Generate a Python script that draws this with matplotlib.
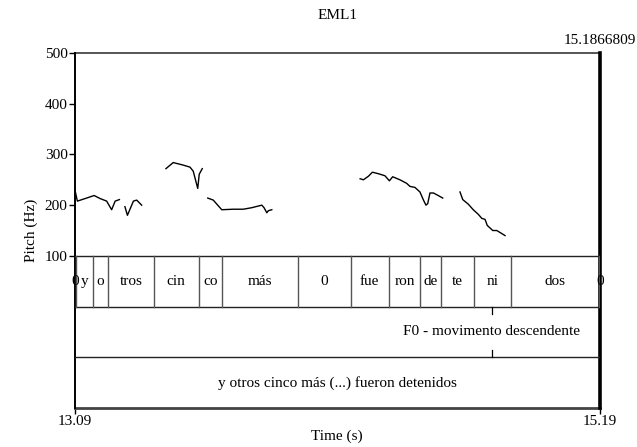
import matplotlib
matplotlib.use("Agg")
import matplotlib.pyplot as plt

plt.rcParams['font.family'] = ['Liberation Serif', 'DejaVu Serif']
plt.rcParams['font.size'] = 11

t_start = 13.0866809
t_end = 15.1866809

# pitch contour (time in s, F0 in Hz), one list per voiced stretch
pitch_t = [
    [13.087, 13.098, 13.129, 13.165, 13.189, 13.215, 13.235, 13.249, 13.266],
    [13.288, 13.298, 13.322, 13.335, 13.355],
    [13.452, 13.481, 13.521, 13.548, 13.561, 13.579, 13.585, 13.597],
    [13.619, 13.641, 13.675, 13.721, 13.761, 13.795, 13.835, 13.844, 13.855, 13.861, 13.875],
    [14.228, 14.241, 14.261, 14.277, 14.301, 14.327, 14.345, 14.358, 14.387, 14.414,
     14.427, 14.447, 14.467, 14.481, 14.491, 14.498, 14.507, 14.521, 14.540, 14.558],
    [14.627, 14.638, 14.660, 14.680, 14.700, 14.714, 14.727, 14.736, 14.758, 14.774, 14.794, 14.807],
]
pitch_hz = [
    [233, 208, 213, 219, 213, 208, 191, 208, 211],
    [197, 180, 208, 210, 200],
    [272, 284, 279, 275, 267, 233, 261, 272],
    [214, 210, 191, 192, 192, 195, 200, 195, 185, 189, 191],
    [252, 250, 257, 265, 262, 258, 248, 256, 250, 243, 237, 235, 226, 210, 200, 203, 224, 224, 219, 214],
    [226, 211, 202, 191, 182, 174, 172, 160, 150, 150, 144, 140],
]

# syllable tier
syl_bounds = [t_start, 13.0907, 13.1606, 13.2194, 13.4032, 13.5830, 13.6749, 13.9787,
              14.1904, 14.3423, 14.4674, 14.5513, 14.6832, 14.8322, 15.1839, t_end]
syl_labels = ["0", "y", "o", "tros", "cin", "co", "más", "0",
              "fue", "ron", "de", "te", "ni", "dos", "0"]

# point tier
point_t = 14.754
point_label = "F0 - movimento descendente"

# sentence tier
sentence = "y otros cinco más (...) fueron detenidos"

fig = plt.figure(figsize=(6.37, 4.47), dpi=100)
ax = fig.add_axes([0.117, 0.0872, 0.825, 0.7942])
ax.set_xlim(t_start, t_end)
ax.set_ylim(-200, 500)
for s in ax.spines.values():
    s.set_visible(False)

# pitch curve
for tt, hz in zip(pitch_t, pitch_hz):
    ax.plot(tt, hz, color='black', lw=1.0)

# frame
ax.plot([t_start, t_end], [500, 500], color='#555555', lw=1.4, clip_on=False)
ax.plot([t_start, t_end], [-200, -200], color='#444444', lw=2.0, clip_on=False)
ax.plot([t_start, t_start], [-200, 500], color='black', lw=1.4, clip_on=False)
ax.plot([t_end, t_end], [-200, 500], color='black', lw=2.6, clip_on=False)
for y in [100, 0, -100]:
    ax.plot([t_start, t_end], [y, y], color='#222222', lw=1.0)

# syllables
for b in syl_bounds[1:-1]:
    ax.plot([b, b], [0, 100], color='#555555', lw=1.0)
for i, lab in enumerate(syl_labels):
    mid = (syl_bounds[i] + syl_bounds[i + 1]) / 2
    ax.text(mid, 50, lab, ha='center', va='center')

# point tier
ax.plot([point_t, point_t], [0, -14], color='black', lw=0.9)
ax.plot([point_t, point_t], [-86, -100], color='black', lw=0.9)
ax.text(point_t, -50, point_label, ha='center', va='center')

ax.text((t_start + t_end) / 2, -150, sentence, ha='center', va='center')

ax.set_yticks([100, 200, 300, 400, 500])
ax.set_xticks([t_start, t_end])
ax.set_xticklabels(["13.09", "15.19"])
ax.tick_params(axis='both', length=4, width=1, color='black', pad=1)
ax.set_ylabel("Pitch (Hz)", labelpad=5)
ax.set_xlabel("Time (s)", labelpad=1)

ax.text(t_end, 1.035, "15.1866809", transform=ax.get_xaxis_transform(),
        ha='center', va='center')
fig.text(0.53, 0.965, "EML1", ha='center', va='center')

fig.savefig("out.png", dpi=100)
